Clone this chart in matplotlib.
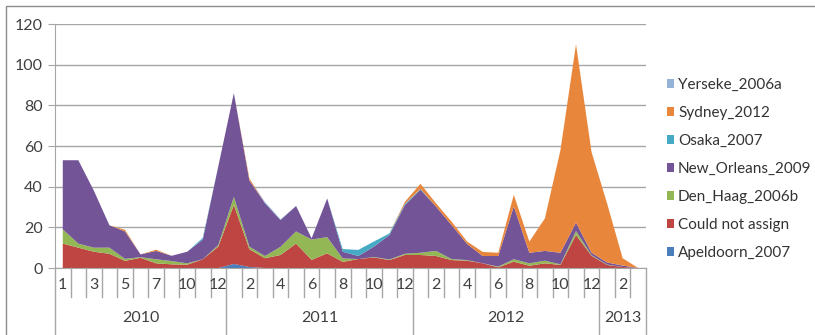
import numpy as np
import matplotlib
matplotlib.use("Agg")
import matplotlib.pyplot as plt
from matplotlib.patches import Patch, Rectangle
from matplotlib.transforms import blended_transform_factory

plt.rcParams['font.family'] = ['Lato', 'DejaVu Sans']

# month labels per year (2010 has no month 9)
years = ["2010", "2011", "2012", "2013"]
months = [[1, 2, 3, 4, 5, 6, 7, 8, 10, 11, 12],
          list(range(1, 13)),
          list(range(1, 13)),
          [1, 2, 3]]

apeldoorn = [0, 0, 0, 0, 0, 0, 0, 0, 0, 0, 0,
             2, 0.5, 0, 0, 0, 0, 0, 0, 0, 0, 0, 0,
             0, 0, 0, 0, 0, 0, 0, 0, 0, 0, 0, 0,
             0, 0, 0]
could_not_assign = [12, 10, 8, 7, 3.5, 5, 2.3, 1.8, 1.6, 4.3, 10.5,
                    29, 8.7, 4.8, 6.4, 12, 4, 7.2, 3, 4.4, 5.2, 3.9, 6.4,
                    6.4, 5.9, 3.9, 3.6, 2.3, 0.3, 3.1, 1.1, 2.3, 1.5, 16.2, 6,
                    1.5, 0.5, 0]
den_haag = [7, 2, 2, 3, 1, 0.3, 2, 1.6, 0.7, 0, 0.8,
            4, 1.3, 1.1, 4, 6, 10, 8, 1.7, 0, 0.2, 0.3, 0.6,
            1.1, 2.5, 0.5, 0.3, 0, 0.4, 1.2, 1.2, 1.3, 0.3, 2, 0.3,
            0.2, 0, 0]
new_orleans = [34, 41, 28, 11, 13.5, 1.4, 4.1, 2.6, 5.7, 9.7, 38.7,
               51, 32.5, 26, 13.2, 12.5, 0.6, 19, 3.3, 1.5, 5.1, 12, 24,
               31, 21.8, 16.7, 7.9, 3.6, 5.2, 26, 5.2, 4.8, 5.7, 4.1, 1.2,
               1.0, 0.7, 0]
osaka = [0, 0, 0, 0, 0, 0, 0, 0, 0, 0.8, 0,
         0, 0, 0, 0, 0, 0, 0, 1.3, 3, 2.5, 0.8, 0.6,
         0.4, 0, 0, 0, 0, 0, 0, 0, 0, 0, 0, 0,
         0, 0, 0]
sydney = [0, 0, 0, 0, 0.8, 0, 0.6, 0, 0, 0, 0,
          0, 1, 0, 0, 0, 0, 0, 0, 0, 0, 0, 1,
          2.5, 1.6, 1.7, 1.2, 2, 1.6, 5.7, 5.5, 16, 50.5, 87.7, 49.5,
          29, 3.6, 0]
yerseke = [0, 0, 0, 0, 0, 0, 0, 0, 0, 0, 0,
           0, 0, 0.6, 0.4, 0, 0, 0, 0, 0, 0, 0, 0,
           0, 0, 0, 0, 0, 0, 0, 0, 0, 0, 0, 0,
           0, 0, 0]

series = [apeldoorn, could_not_assign, den_haag, new_orleans, osaka, sydney, yerseke]
names = ["Apeldoorn_2007", "Could not assign", "Den_Haag_2006b", "New_Orleans_2009",
         "Osaka_2007", "Sydney_2012", "Yerseke_2006a"]
colors = ["#4A7EBB", "#BE4541", "#93B755", "#735497", "#46AAC5", "#E8873C", "#94B3D6"]

n = sum(len(m) for m in months)
x = np.arange(n)

W, H = 815, 335
fig = plt.figure(figsize=(W / 100, H / 100), dpi=100)
ax = fig.add_axes([55 / W, (H - 268) / H, (646 - 55) / W, (268 - 24) / H])

ax.stackplot(x, *series, colors=colors, linewidth=0)
ax.set_xlim(-0.5, n - 0.5)
ax.set_ylim(0, 120)
ax.set_yticks(range(0, 121, 20))
ax.yaxis.grid(True, color="#A6A6A6", linewidth=1)
ax.set_axisbelow(True)
ax.tick_params(axis='y', length=5, color="#A6A6A6", labelsize=11.5, labelcolor="#404040", pad=4)
ax.set_xticks([])
for s in ["top", "right"]:
    ax.spines[s].set_visible(False)
ax.spines["left"].set_color("#A6A6A6")
ax.spines["bottom"].set_color("#A6A6A6")

# multi-level category axis
trans = blended_transform_factory(ax.transData, ax.transAxes)
short = -(297 - 268) / 244
longer = -(340 - 268) / 244
i = 0
ax.plot([-0.5, -0.5], [0, longer], transform=trans, color="#A6A6A6", lw=1, clip_on=False)
for yr, ms in zip(years, months):
    start = i
    for k, m in enumerate(ms):
        if i > start:
            ax.plot([i - 0.5, i - 0.5], [0, short], transform=trans,
                    color="#A6A6A6", lw=1, clip_on=False)
        if i % 2 == 0:
            ax.text(i, -0.07, str(m), transform=trans, ha="center", va="center",
                    fontsize=11.5, color="#404040")
        i += 1
    ax.plot([i - 0.5, i - 0.5], [0, longer], transform=trans, color="#A6A6A6", lw=1, clip_on=False)
    ax.text((start + i - 1) / 2, -0.205, yr, transform=trans, ha="center", va="center",
            fontsize=11.5, color="#404040")

# chart border
fig.patches.append(Rectangle((6 / W, -0.2), 1.2, 1 - 6 / H + 0.2, transform=fig.transFigure,
                             fill=False, edgecolor="#8C8C8C", lw=1))

handles = [Patch(facecolor=c, edgecolor="none") for c in colors][::-1]
fig.legend(handles, names[::-1], loc="upper left", bbox_to_anchor=(659 / W, 1 - 70 / H),
           frameon=False, fontsize=11, handlelength=0.5, handleheight=0.5,
           handletextpad=0.25, labelspacing=0.92, borderpad=0, labelcolor="#333333")

fig.savefig("out.png", dpi=100)
